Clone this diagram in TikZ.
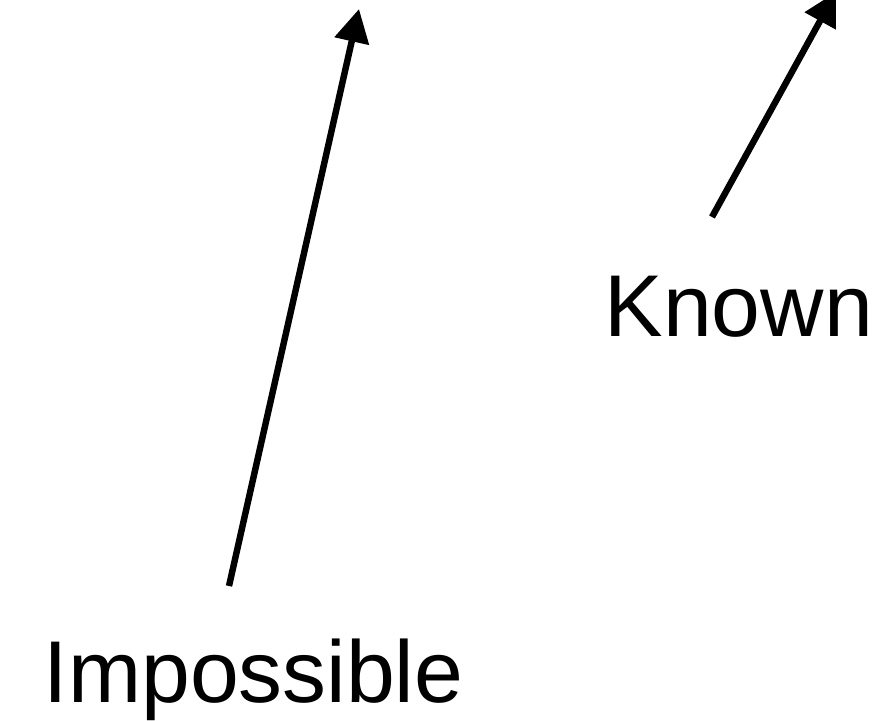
\documentclass[tikz,border=0pt]{standalone}
\usepackage{fontspec}
\setmainfont{Liberation Sans}
\usetikzlibrary{arrows.meta}

\begin{document}
\begin{tikzpicture}[x=0.03cm,y=-0.03cm,
	pointer/.style={line width=5.5pt,-{Triangle[length=0.99cm,width=1.02cm]}},
	word/.style={anchor=base west,inner sep=0pt,font=\fontsize{74.9}{84}\selectfont}]
	\useasboundingbox (0,0) rectangle (882,721);
	\coordinate (imptail) at (229,586);
	\coordinate (imptip) at (359,9);
	\coordinate (kntail) at (712,217);
	\coordinate (kntip) at (836,-8);
	\draw[pointer] (imptail) -- (imptip);
	\draw[pointer] (kntail) -- (kntip);
	\node[word] (known) at (604.3,336) {Known};
	\node[word] (impossible) at (43.5,702) {Impossible};
\end{tikzpicture}
\end{document}
